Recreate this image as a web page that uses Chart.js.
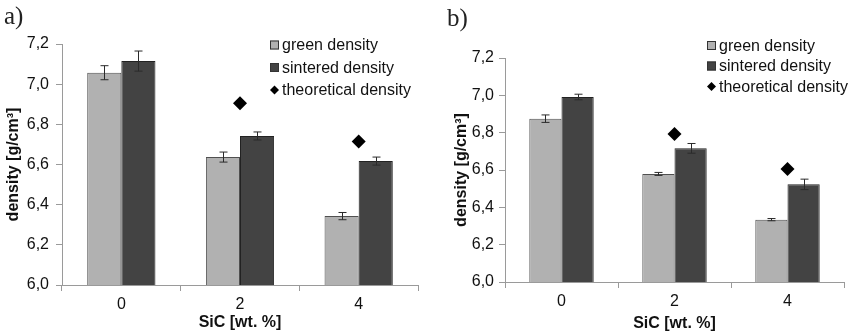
<!DOCTYPE html>
<html>
<head>
<meta charset="utf-8">
<script src="https://cdn.jsdelivr.net/npm/chart.js@4.4.1/dist/chart.umd.min.js"></script>
<style>
  body { margin: 0; background: #fff; }
  .panel { position: absolute; top: 0; width: 425px; height: 336px; }
  .tag { position: absolute; font-family: "Liberation Serif", serif; font-size: 25px; color: #222; }
</style>
</head>
<body>
<div class="panel" style="left:0"><canvas id="chartA" width="425" height="336"></canvas></div>
<div class="panel" style="left:425px;width:426px"><canvas id="chartB" width="426" height="336"></canvas></div>
<div class="tag" style="left:4px;top:2px">a)</div>
<div class="tag" style="left:447px;top:4px">b)</div>
<script>
// data
var categories = ['0', '2', '4'];
var seriesNames = ['green density', 'sintered density', 'theoretical density'];

var greenA = [7.057, 6.637, 6.343];
var greenErrA = [0.035, 0.025, 0.018];
var sinteredA = [7.115, 6.742, 6.617];
var sinteredErrA = [0.05, 0.02, 0.02];
var theoreticalA = [null, 6.905, 6.714];

var greenB = [6.875, 6.579, 6.334];
var greenErrB = [0.02, 0.008, 0.006];
var sinteredB = [6.991, 6.716, 6.523];
var sinteredErrB = [0.015, 0.026, 0.028];
var theoreticalB = [null, 6.793, 6.605];

var yTicks = [6.0, 6.2, 6.4, 6.6, 6.8, 7.0, 7.2];
var xTitle = 'SiC [wt. %]';
var yTitle = 'density [g/cm³]';

var greenColor = '#b1b1b1';
var sinteredColor = '#434343';
var axisColor = '#9a9a9a';
var font = 'Liberation Sans, Arial, sans-serif';

// error bars on top of bars
var errorBars = {
  id: 'errorBars',
  afterDatasetsDraw: function(chart) {
    var ctx = chart.ctx;
    var y = chart.scales.y;
    ctx.save();
    ctx.strokeStyle = '#2a2a2a';
    ctx.lineWidth = 1;
    chart.data.datasets.forEach(function(ds, i) {
      if (!ds.errors) return;
      var meta = chart.getDatasetMeta(i);
      meta.data.forEach(function(bar, j) {
        var v = ds.data[j], e = ds.errors[j];
        var top = y.getPixelForValue(v + e);
        var bot = y.getPixelForValue(v - e);
        var x = Math.round(bar.x) + 0.5;
        ctx.beginPath();
        ctx.moveTo(x, top); ctx.lineTo(x, bot);
        ctx.moveTo(x - 4, top); ctx.lineTo(x + 4, top);
        ctx.moveTo(x - 4, bot); ctx.lineTo(x + 4, bot);
        ctx.stroke();
      });
    });
    ctx.restore();
  }
};

// legend drawn at a fixed spot like the original
var boxLegend = {
  id: 'boxLegend',
  afterDraw: function(chart, args, opts) {
    var ctx = chart.ctx;
    ctx.save();
    ctx.font = '16px ' + font;
    ctx.textBaseline = 'middle';
    chart.data.datasets.forEach(function(ds, i) {
      var cy = opts.rows[i];
      if (ds.type === 'line') {
        ctx.beginPath();
        ctx.moveTo(opts.x + 4.5, cy - 4.5);
        ctx.lineTo(opts.x + 9, cy);
        ctx.lineTo(opts.x + 4.5, cy + 4.5);
        ctx.lineTo(opts.x, cy);
        ctx.closePath();
        ctx.fillStyle = '#000';
        ctx.fill();
      } else {
        ctx.fillStyle = ds.backgroundColor;
        ctx.fillRect(opts.x, cy - 4.5, 9, 9);
        ctx.strokeStyle = '#333';
        ctx.strokeRect(opts.x + 0.5, cy - 4, 8, 8);
      }
      ctx.fillStyle = '#111';
      ctx.fillText(ds.label, opts.x + 12, cy + 1);
    });
    ctx.restore();
  }
};

function makeChart(id, green, greenErr, sintered, sinteredErr, theo, lay) {
  return new Chart(document.getElementById(id), {
    type: 'bar',
    data: {
      labels: categories,
      datasets: [
        { label: seriesNames[0], data: green, errors: greenErr,
          backgroundColor: greenColor, borderColor: '#505050', borderWidth: 1, order: 2 },
        { label: seriesNames[1], data: sintered, errors: sinteredErr,
          backgroundColor: sinteredColor, borderColor: '#222', borderWidth: 1, order: 2 },
        { type: 'line', label: seriesNames[2], data: theo, showLine: false,
          pointStyle: 'rectRot', pointRadius: lay.diamond, backgroundColor: '#000',
          borderColor: '#000', borderWidth: 0, order: 1 }
      ]
    },
    options: {
      responsive: false,
      animation: false,
      layout: { padding: { top: lay.top, right: lay.right, left: 0, bottom: 0 } },
      datasets: { bar: { categoryPercentage: lay.cat, barPercentage: 1 } },
      plugins: { legend: { display: false }, tooltip: { enabled: false },
        boxLegend: { x: lay.legendX, rows: lay.legendRows } },
      scales: {
        x: {
          afterFit: function(s) { s.height = lay.xHeight; },
          border: { color: axisColor, width: 1 },
          grid: { drawOnChartArea: false, tickLength: 6, color: axisColor },
          ticks: { color: '#111', padding: 4, font: { family: font, size: 16 } },
          title: { display: true, text: xTitle, color: '#111',
            font: { family: font, size: 16, weight: 'bold' }, padding: { top: 0, bottom: lay.xTitlePad } }
        },
        y: {
          min: 6, max: 7.2,
          afterFit: function(s) { s.width = lay.yWidth; },
          afterBuildTicks: function(s) { s.ticks = yTicks.map(function(v) { return { value: v }; }); },
          border: { color: axisColor, width: 1 },
          grid: { drawOnChartArea: false, tickLength: 6, color: axisColor },
          ticks: { color: '#111', padding: lay.yTickPad, font: { family: font, size: 16 },
            callback: function(v) { return v.toFixed(1).replace('.', ','); } },
          title: { display: true, text: yTitle, color: '#111',
            font: { family: font, size: 16, weight: 'bold' }, padding: { top: lay.yTitlePad, bottom: 0 } }
        }
      }
    },
    plugins: [errorBars, boxLegend]
  });
}

makeChart('chartA', greenA, greenErrA, sinteredA, sinteredErrA, theoreticalA, {
  top: 44, right: 5, xHeight: 51, yWidth: 62, cat: 0.575, diamond: 7,
  xTitlePad: 4, yTitlePad: 4, yTickPad: 7, legendX: 270, legendRows: [45, 67.5, 90]
});
makeChart('chartB', greenB, greenErrB, sinteredB, sinteredErrB, theoreticalB, {
  top: 58, right: 0, xHeight: 54, yWidth: 80, cat: 0.57, diamond: 7,
  xTitlePad: 3, yTitlePad: 27, yTickPad: 5, legendX: 282, legendRows: [45.5, 66, 86.5]
});
</script>
</body>
</html>
